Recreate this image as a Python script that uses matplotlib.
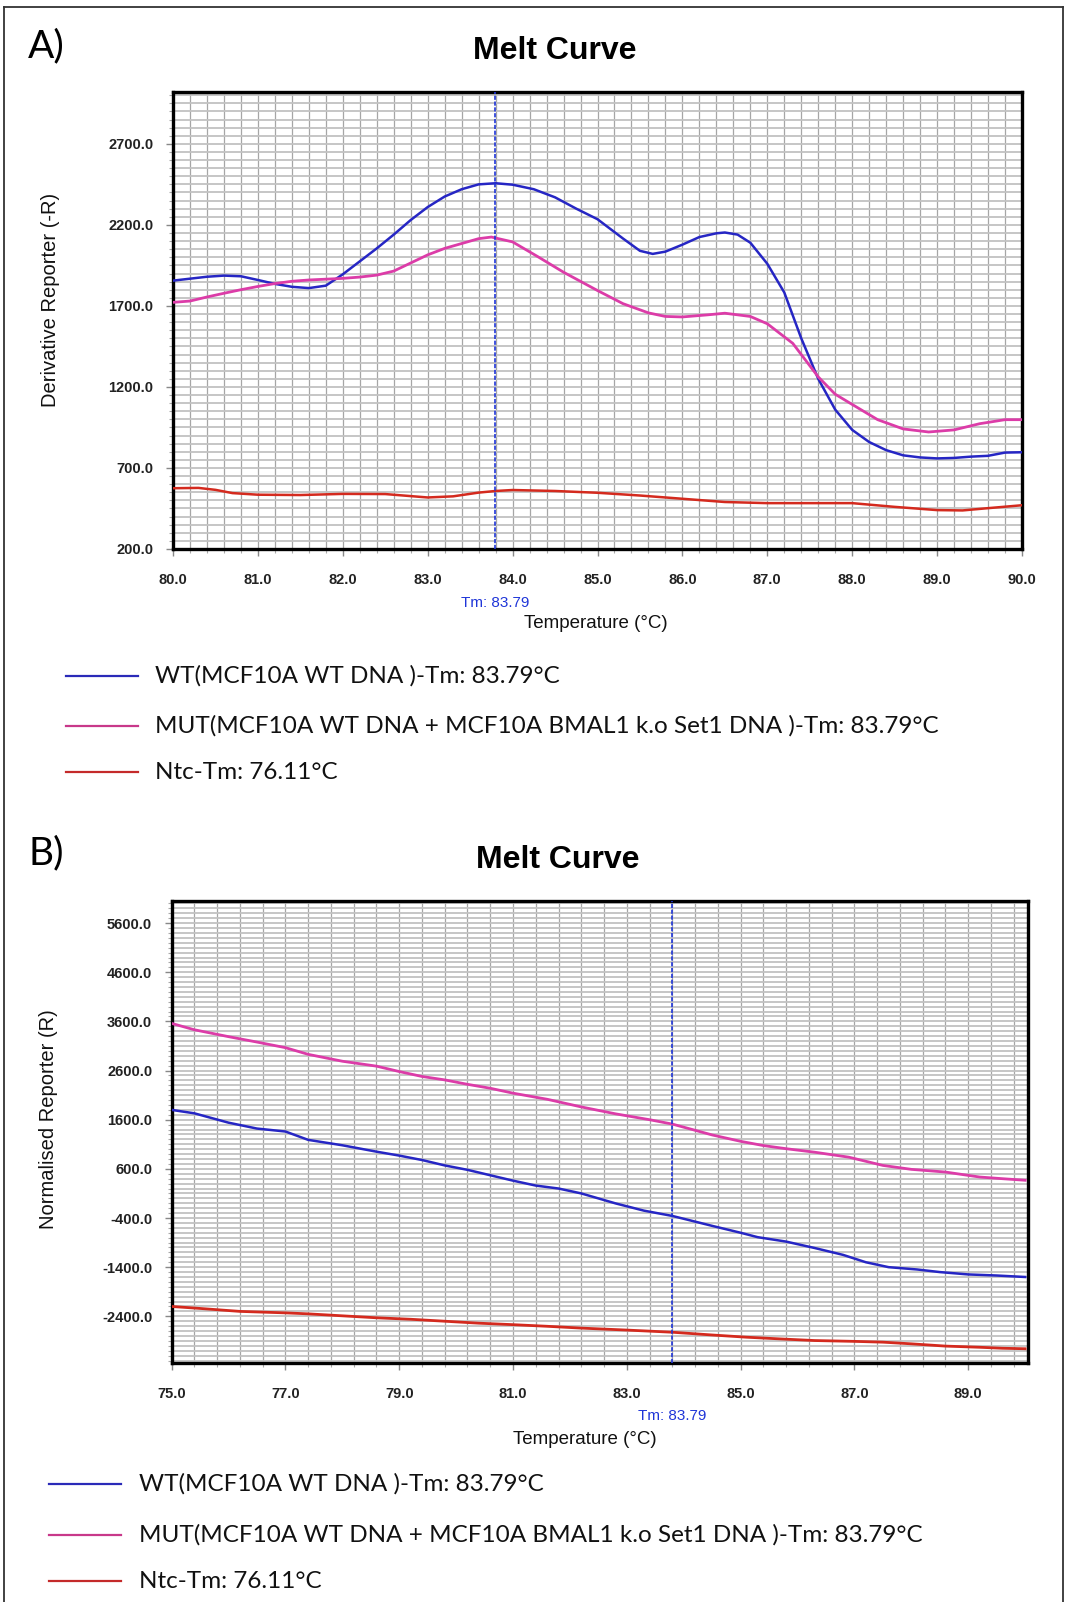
import numpy as np
import matplotlib
matplotlib.use("Agg")
import matplotlib.pyplot as plt
from matplotlib.lines import Line2D
from matplotlib.ticker import FixedLocator, FormatStrFormatter

plt.rcParams['axes.unicode_minus'] = False

# ---------------- Panel A data (derivative melt curve) ----------------
a_wt_t = [80.0, 80.2, 80.4, 80.6, 80.8, 81.0, 81.2, 81.4, 81.6, 81.8, 82.0, 82.2, 82.4,
          82.6, 82.8, 83.0, 83.2, 83.4, 83.6, 83.8, 84.0, 84.25, 84.5, 84.75, 85.0, 85.3,
          85.5, 85.65, 85.8, 86.0, 86.2, 86.4, 86.5, 86.65, 86.8, 87.0, 87.2, 87.4, 87.6,
          87.8, 88.0, 88.2, 88.4, 88.6, 88.8, 89.0, 89.2, 89.4, 89.6, 89.8, 90.0]
a_wt_v = [1856, 1868, 1880, 1887, 1883, 1860, 1836, 1818, 1810, 1825, 1895, 1975, 2055,
          2140, 2230, 2310, 2375, 2420, 2450, 2457, 2448, 2420, 2370, 2300, 2235, 2116,
          2040, 2021, 2035, 2078, 2125, 2148, 2153, 2140, 2090, 1960, 1783, 1500, 1250,
          1060, 935, 860, 810, 778, 765, 759, 762, 770, 775, 795, 797]

a_mut_t = [80.0, 80.2, 80.4, 80.6, 80.8, 81.0, 81.2, 81.4, 81.6, 81.8, 82.0, 82.2, 82.4,
           82.6, 82.8, 83.0, 83.2, 83.4, 83.6, 83.75, 84.0, 84.3, 84.6, 85.0, 85.3, 85.6,
           85.8, 86.0, 86.3, 86.5, 86.8, 87.0, 87.3, 87.6, 87.8, 88.0, 88.3, 88.6, 88.9,
           89.2, 89.5, 89.8, 90.0]
a_mut_v = [1722, 1730, 1755, 1778, 1800, 1820, 1838, 1852, 1860, 1865, 1870, 1878, 1890,
           1915, 1965, 2015, 2055, 2085, 2115, 2125, 2095, 2003, 1908, 1795, 1714, 1657,
           1635, 1632, 1645, 1655, 1635, 1590, 1469, 1262, 1155, 1092, 998, 941, 922,
           935, 973, 998, 998]

a_ntc_t = [80.0, 80.3, 80.5, 80.7, 81.0, 81.5, 82.0, 82.5, 83.0, 83.3, 83.6, 83.8, 84.0,
           84.5, 85.0, 85.5, 86.0, 86.5, 87.0, 87.5, 88.0, 88.5, 89.0, 89.3, 89.6, 90.0]
a_ntc_v = [575, 577, 565, 545, 535, 533, 540, 539, 518, 525, 548, 558, 564,
           558, 547, 530, 510, 490, 483, 483, 483, 460, 440, 438, 452, 470]

a_xticks = [80.0, 81.0, 82.0, 83.0, 84.0, 85.0, 86.0, 87.0, 88.0, 89.0, 90.0]
a_yticks = [200.0, 700.0, 1200.0, 1700.0, 2200.0, 2700.0]

# ---------------- Panel B data (normalised reporter) ----------------
b_mut_t = [75.0, 75.4, 76.0, 76.5, 77.0, 77.4, 78.0, 78.6, 79.0, 79.4, 79.8, 80.2, 80.6,
           81.0, 81.6, 82.2, 82.8, 83.4, 83.8, 84.5, 85.0, 85.4, 85.8, 86.3, 86.9, 87.5,
           88.0, 88.6, 89.2, 89.6, 90.0]
b_mut_v = [3560, 3430, 3290, 3180, 3066, 2930, 2790, 2690, 2580, 2480, 2410, 2320, 2240,
           2140, 2016, 1860, 1720, 1600, 1511, 1290, 1160, 1074, 1010, 939, 838, 670,
           590, 535, 434, 400, 368]

b_wt_t = [75.0, 75.4, 76.0, 76.5, 77.0, 77.4, 78.0, 78.6, 79.0, 79.4, 79.8, 80.2, 80.6,
          81.0, 81.4, 81.8, 82.2, 82.8, 83.3, 83.8, 84.5, 85.0, 85.3, 85.8, 86.3, 86.8,
          87.2, 87.6, 88.1, 88.5, 89.0, 89.5, 90.0]
b_wt_v = [1800, 1730, 1540, 1420, 1360, 1190, 1080, 950, 870, 780, 670, 580, 470,
          360, 260, 200, 100, -102, -250, -358, -560, -700, -790, -880, -1010, -1150,
          -1300, -1400, -1447, -1500, -1548, -1570, -1600]

b_ntc_t = [75.0, 75.5, 76.2, 77.0, 77.4, 78.0, 78.6, 79.2, 79.8, 80.4, 81.0, 81.6, 82.2,
           83.0, 83.8, 84.5, 85.1, 85.7, 86.3, 87.0, 87.5, 88.0, 88.6, 89.2, 89.6, 90.0]
b_ntc_v = [-2200, -2240, -2300, -2330, -2350, -2390, -2430, -2460, -2500, -2540, -2570,
           -2603, -2640, -2680, -2724, -2780, -2825, -2860, -2893, -2910, -2926, -2960,
           -3006, -3030, -3050, -3060]

b_xticks = [75.0, 77.0, 79.0, 81.0, 83.0, 85.0, 87.0, 89.0]
b_yticks = [5600.0, 4600.0, 3600.0, 2600.0, 1600.0, 600.0, -400.0, -1400.0, -2400.0]

tm_value = 83.79
legend_labels = ["WT(MCF10A WT DNA )-Tm: 83.79°C",
                 "MUT(MCF10A WT DNA + MCF10A BMAL1 k.o Set1 DNA )-Tm: 83.79°C",
                 "Ntc-Tm: 76.11°C"]

C_BLUE = "#2626c4"
C_PINK = "#dc3ca8"
C_RED = "#d42a1e"
LEG_COLORS = ["#2a2ab8", "#c8388a", "#c42a2a"]
C_TM = "#1f35d8"

W, H = 1071, 1602
fig = plt.figure(figsize=(W / 100, H / 100), dpi=100)
fig.patch.set_facecolor("white")

TICK_FONT = dict(family="Liberation Sans", size=10.5, weight="bold")


def fx(px):
    return px / W


def fy(py):
    return 1 - py / H


def style_axes(ax, xminor, yminor, xticks, yticks, xlim, ylim):
    ax.set_xlim(*xlim)
    ax.set_ylim(*ylim)
    ax.xaxis.set_major_locator(FixedLocator(xticks))
    ax.yaxis.set_major_locator(FixedLocator(yticks))
    ax.xaxis.set_minor_locator(FixedLocator(xminor))
    ax.yaxis.set_minor_locator(FixedLocator(yminor))
    ax.xaxis.set_major_formatter(FormatStrFormatter("%.1f"))
    ax.yaxis.set_major_formatter(FormatStrFormatter("%.1f"))
    ax.grid(True, which="both", axis="x", color="#a6a6a6", lw=0.9)
    ax.grid(True, which="both", axis="y", color="#c2c2c2", lw=1.3)
    ax.set_axisbelow(True)
    for s in ax.spines.values():
        s.set_linewidth(2.4)
        s.set_color("black")
    ax.tick_params(which="major", direction="out", length=5, width=1.0, color="#888888")
    ax.tick_params(axis="x", which="major", pad=12)
    ax.tick_params(axis="y", which="major", pad=9)
    ax.tick_params(which="minor", direction="out", length=3, width=0.8, color="#aaaaaa")
    for lab in ax.get_xticklabels() + ax.get_yticklabels():
        lab.set_fontfamily(TICK_FONT["family"])
        lab.set_fontsize(TICK_FONT["size"])
        lab.set_fontweight(TICK_FONT["weight"])
        lab.set_color("#222222")


def legend_block(x_line0, x_line1, x_text, rows):
    for (py, lab, col) in zip(rows, legend_labels, LEG_COLORS):
        fig.add_artist(Line2D([fx(x_line0), fx(x_line1)], [fy(py), fy(py)],
                              transform=fig.transFigure, color=col, lw=1.6))
        fig.text(fx(x_text), fy(py), lab, fontsize=17.5, family="Lato",
                 va="center", ha="left", color="#111111")


# ---------------- Panel A ----------------
axA = fig.add_axes([fx(173), fy(549), fx(1022 - 173), (549 - 92) / H])
axA.plot(a_wt_t, a_wt_v, color=C_BLUE, lw=1.8, zorder=3)
axA.plot(a_mut_t, a_mut_v, color=C_PINK, lw=2.0, zorder=3)
axA.plot(a_ntc_t, a_ntc_v, color=C_RED, lw=1.8, zorder=3)
axA.axvline(tm_value, color=C_TM, lw=1.2, ls=(0, (2.5, 1)), zorder=4)
style_axes(axA, np.arange(80, 90.001, 0.2), np.arange(200, 3001, 50),
           a_xticks, a_yticks, (80, 90), (200, 3020))
axA.text(tm_value, -0.118, "Tm: %.2f" % tm_value, transform=axA.get_xaxis_transform(),
         ha="center", va="center", color=C_TM, fontsize=11, family="Liberation Sans")
axA.text(0.498, -0.162, "Temperature (°C)", transform=axA.transAxes, ha="center",
         va="center", fontsize=13.5, family="Liberation Sans", color="#111111")
fig.text(fx(51), fy(300), "Derivative Reporter (-R)", rotation=90, ha="center",
         va="center", fontsize=14.5, family="Liberation Sans", color="#111111")
fig.text(fx(555), fy(51), "Melt Curve", ha="center", va="center", fontsize=23,
         weight="bold", family="Liberation Sans")
fig.text(fx(28), fy(46), "A)", ha="left", va="center", fontsize=28, family="Lato")
legend_block(66, 138, 155, [676, 726, 772])

# ---------------- Panel B ----------------
axB = fig.add_axes([fx(171.6), fy(1363), fx(1028 - 171.6), (1363 - 901) / H])
axB.plot(b_wt_t, b_wt_v, color=C_BLUE, lw=1.8, zorder=3)
axB.plot(b_mut_t, b_mut_v, color=C_PINK, lw=2.0, zorder=3)
axB.plot(b_ntc_t, b_ntc_v, color=C_RED, lw=2.0, zorder=3)
axB.axvline(tm_value, color=C_TM, lw=1.2, ls=(0, (2.5, 1)), zorder=4)
style_axes(axB, np.arange(75, 90.001, 0.4), np.arange(-3300, 6001, 100),
           b_xticks, b_yticks, (75, 90.05), (-3350, 6050))
axB.text(tm_value, -0.115, "Tm: %.2f" % tm_value, transform=axB.get_xaxis_transform(),
         ha="center", va="center", color=C_TM, fontsize=11, family="Liberation Sans")
axB.text(0.482, -0.165, "Temperature (°C)", transform=axB.transAxes, ha="center",
         va="center", fontsize=13.5, family="Liberation Sans", color="#111111")
fig.text(fx(49), fy(1119), "Normalised Reporter (R)", rotation=90, ha="center",
         va="center", fontsize=14.5, family="Liberation Sans", color="#111111")
fig.text(fx(558), fy(860), "Melt Curve", ha="center", va="center", fontsize=23,
         weight="bold", family="Liberation Sans")
fig.text(fx(28), fy(853), "B)", ha="left", va="center", fontsize=28, family="Lato")
legend_block(49, 121, 139, [1484, 1535, 1581])

# outer frame
fig.add_artist(Line2D([fx(4), fx(4)], [fy(7), -0.01], transform=fig.transFigure,
                      color="#333333", lw=1.3))
fig.add_artist(Line2D([fx(4), fx(1063)], [fy(7), fy(7)], transform=fig.transFigure,
                      color="#333333", lw=1.3))
fig.add_artist(Line2D([fx(1063), fx(1063)], [fy(7), -0.01], transform=fig.transFigure,
                      color="#333333", lw=1.3))

fig.savefig("out.png", dpi=100, facecolor="white")
